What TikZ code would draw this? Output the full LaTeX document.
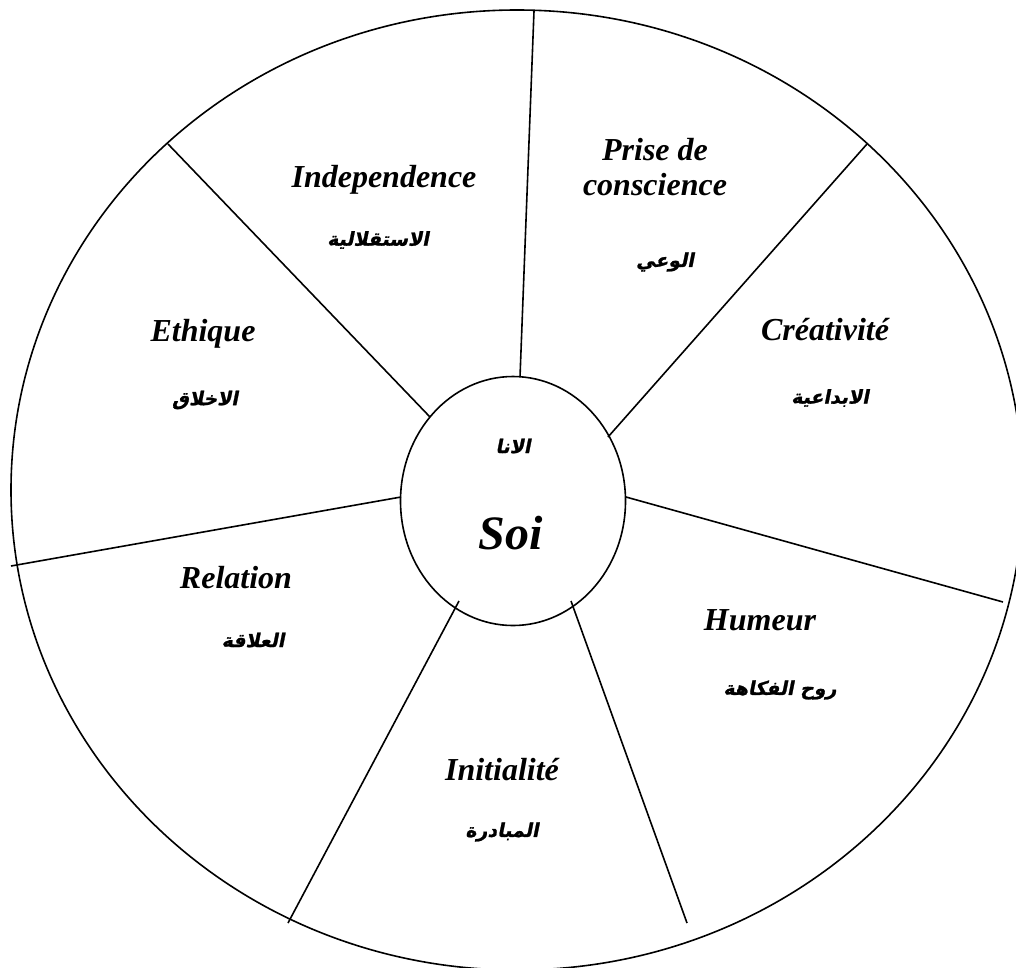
\documentclass[tikz,border=0pt]{standalone}
\usepackage{fontspec}
\setmainfont{Liberation Serif}
\newfontfamily\arabicfont[Script=Arabic,BoldFeatures={FakeSlant=0.2,FakeBold=1.2}]{DejaVu Sans}
\TeXXeTstate=1
\usetikzlibrary{shapes.geometric}
\begin{document}
\begin{tikzpicture}[x=1pt,y=-1pt,line width=1.6pt,
  lat/.style={font=\fontsize{32}{35}\selectfont\bfseries\itshape,align=center,inner sep=0pt},
  arb/.style={font=\fontsize{19}{22}\selectfont\arabicfont\bfseries,inner sep=0pt},
  spoke/.style={line width=1.6pt}]
\useasboundingbox (0,0) rectangle (1016,967);
\clip (0,0) rectangle (1016,967);
\fill[white] (0,0) rectangle (1016,967);
% outer wheel
\draw (517,490) ellipse [x radius=506, y radius=480];
% centre
\node[draw,ellipse,minimum width=225pt,minimum height=249pt,inner sep=0pt] (soi) at (513,501) {};
% spoke ends
\coordinate (i1) at (520,377); \coordinate (o1) at (534,11);
\coordinate (i2) at (608,437); \coordinate (o2) at (867,144);
\coordinate (i3) at (626,497); \coordinate (o3) at (1003,602);
\coordinate (i4) at (571,601); \coordinate (o4) at (687,923);
\coordinate (i5) at (459,601); \coordinate (o5) at (288,923);
\coordinate (i6) at (401,497); \coordinate (o6) at (11,566);
\coordinate (i7) at (430,417); \coordinate (o7) at (168,144);
\foreach \k in {1,...,7}{\draw[spoke] (i\k) -- (o\k);}
% labels
\node[arb] (anaA) at (513,446) {\beginR الانا\endR};
\node[lat,font=\fontsize{48}{52}\selectfont\bfseries\itshape] (soiL) at (511,533) {Soi};
\node[lat] (indL) at (384,180) {Independence};
\node[arb] (indA) at (378,240) {\beginR الاستقلالية\endR};
\node[lat] (priseL) at (655,167) {Prise de\\conscience};
\node[arb] (priseA) at (665,262) {\beginR الوعي\endR};
\node[lat] (ethL) at (203,334) {Ethique};
\node[arb] (ethA) at (205,400) {\beginR الاخلاق\endR};
\node[lat] (creL) at (825,330) {Créativité};
\node[arb] (creA) at (830,398) {\beginR الابداعية\endR};
\node[lat] (relL) at (236,578) {Relation};
\node[arb] (relA) at (253,640) {\beginR العلاقة\endR};
\node[lat] (humL) at (760,620) {Humeur};
\node[arb] (humA) at (780,690) {\beginR روح الفكاهة\endR};
\node[lat] (iniL) at (502,770) {Initialité};
\node[arb] (iniA) at (502,832) {\beginR المبادرة\endR};
\end{tikzpicture}
\end{document}
